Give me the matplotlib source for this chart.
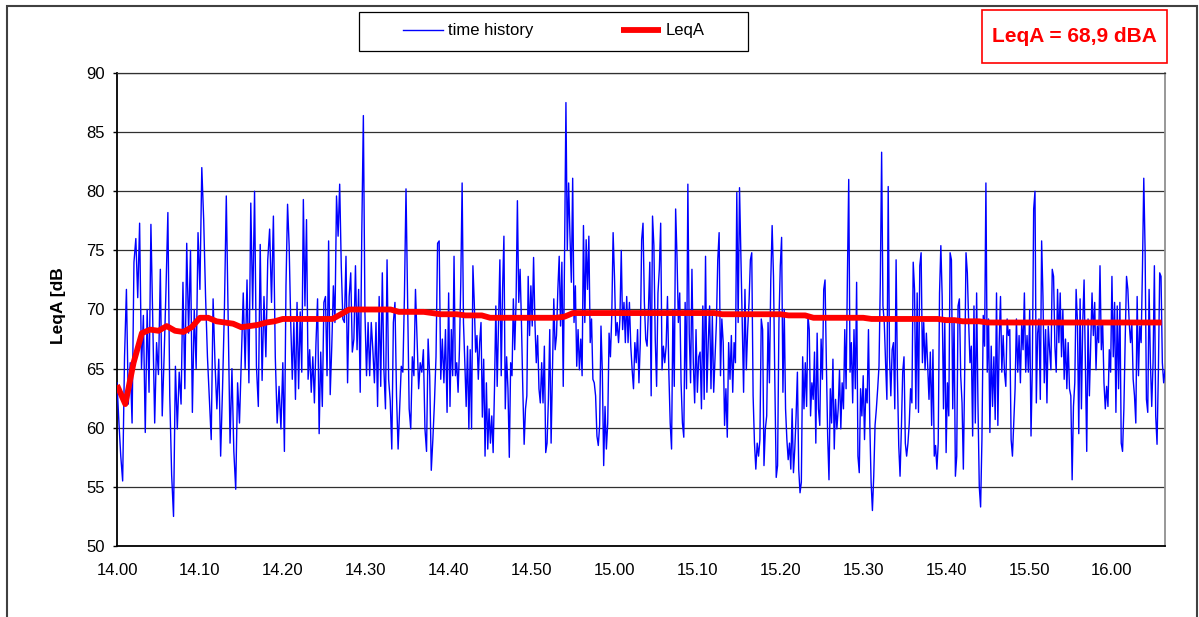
import numpy as np
import matplotlib
matplotlib.use('Agg')
import matplotlib.pyplot as plt
from matplotlib.patches import Rectangle

plt.rcParams['font.family'] = ['Liberation Sans', 'DejaVu Sans']

# time history (dBA), one list per 20 minute block
th_1400 = [63.8, 60.5, 57.6, 55.5, 66.0, 71.7, 62.0, 65.5, 60.4, 74.0, 76.0, 71.0,
           77.3, 65.0, 69.5, 59.6, 70.0, 63.0, 77.2, 68.9, 60.4, 67.2, 64.5, 73.4, 61.0,
           66.0, 71.7, 78.2, 62.7, 56.0, 52.5, 65.2, 59.9, 64.7, 62.0, 72.3, 63.3, 75.6, 68.0,
           75.0, 61.3, 70.0, 65.0, 76.5, 71.7, 82.0, 77.6, 71.1, 66.0, 62.4, 59.0, 70.9, 65.5,
           61.6, 65.8, 57.6, 63.3, 70.0, 79.6, 68.9, 58.7, 65.0, 58.0, 54.8, 63.8, 60.4, 66.0,
           71.4, 65.0, 72.5, 63.8, 79.0, 70.0, 80.0, 65.2, 61.8, 75.5, 64.0, 71.1, 66.0, 74.2,
           76.8, 70.6, 77.9, 66.0, 60.4, 63.5, 59.9]
th_1420 = [65.5, 58.0, 72.0, 78.9, 75.4, 68.9, 64.1, 68.9, 62.4, 70.6, 63.3, 69.8, 64.7, 79.3,
           70.3, 77.6, 64.1, 66.6, 63.0, 66.0, 62.1, 67.2, 70.9, 59.5, 66.4, 61.8, 70.6, 71.1,
           64.4, 75.8, 62.8, 66.9, 72.0, 68.9, 79.6, 76.2, 80.6, 73.7, 69.2, 68.9, 74.5, 63.8,
           71.1, 73.1, 66.4, 67.5, 73.7, 66.6, 71.7, 63.0, 76.5, 86.4, 69.7, 64.4, 68.9, 64.4,
           68.9, 66.6, 63.8, 68.9, 61.8, 71.1, 63.5, 73.1, 64.9, 61.6, 74.2, 64.1, 62.3, 58.2,
           68.9, 70.6, 62.7, 58.2, 61.6, 65.2, 64.7, 71.1, 80.2, 71.1, 61.6, 59.9, 66.0, 64.4,
           71.7, 67.5, 63.3, 65.5, 64.7, 66.6, 59.9, 58.0, 67.5, 64.4, 56.4, 59.0, 62.1, 66.0,
           75.6, 75.8, 64.1, 67.5, 63.8, 68.3, 61.3]
th_1440 = [71.4, 61.8, 68.3, 64.4, 74.5, 64.4, 65.5, 63.0, 66.6, 72.3, 80.7, 68.9, 65.5, 61.8,
           66.9, 59.9, 66.6, 59.9, 73.7, 70.6, 66.4, 67.8, 64.1, 67.2, 68.9, 60.9, 65.8, 57.6,
           63.8, 58.2, 61.6, 58.7, 61.0, 57.9, 63.3, 70.3, 63.5, 68.9, 74.2, 64.4, 71.7, 76.2,
           61.6, 66.0, 63.3, 57.5, 65.5, 64.4, 70.9, 66.6, 70.6, 79.2, 70.6, 73.4, 68.9, 63.3,
           58.6, 61.6, 62.7, 72.8, 67.8, 72.0, 68.6, 74.4, 68.9, 65.5, 67.8, 63.3, 62.1, 65.5,
           62.1, 66.9, 57.9, 58.7, 62.4, 68.3, 58.7, 64.7, 70.9, 66.6, 67.8, 71.7, 74.5, 68.6,
           74.0, 63.5, 74.8, 87.5, 75.0, 80.7, 76.2, 72.3, 81.1, 68.9, 72.0, 65.2, 68.3, 64.9,
           67.5, 64.4, 77.1, 68.9, 75.9, 71.7, 76.2, 67.2, 69.2, 64.1, 63.8, 62.7, 59.3, 58.5,
           60.2, 68.6, 64.7, 56.8, 61.8, 58.2, 60.4, 68.0, 66.0, 69.5, 76.5]
th_1500 = [72.8, 67.8, 68.9, 67.2, 69.2, 75.0, 68.3, 70.6, 67.2, 71.1, 67.2, 70.6, 66.9, 64.9,
           63.3, 67.2, 65.5, 68.3, 63.8, 67.2, 75.9, 77.3, 70.6, 67.5, 66.9, 70.0, 74.0, 62.7,
           77.9, 75.4, 67.5, 63.5, 71.4, 73.4, 77.3, 64.9, 66.9, 65.5, 66.9, 71.1, 64.7, 60.4,
           58.2, 70.0, 63.5, 78.5, 74.5, 68.9, 71.4, 63.8, 60.4, 59.2, 70.6, 63.3, 80.6, 68.0,
           63.8, 73.4, 65.5, 62.1, 68.3, 63.0, 66.0, 66.4, 61.6, 70.3, 62.4, 74.5, 63.0, 67.2,
           70.3, 63.3, 69.5, 63.0, 66.0, 68.9, 74.2, 76.5, 64.4, 69.2, 67.2, 60.2, 63.3, 59.2,
           67.2, 64.1, 67.8, 63.0, 67.2, 65.5, 79.9, 68.9, 80.3, 74.8, 68.9, 63.0, 71.7, 64.9,
           68.3, 70.6, 74.2, 74.8, 62.7, 58.7, 56.5, 58.7, 57.6, 59.0, 69.2, 68.3, 56.8, 59.9,
           61.0, 68.9, 63.8, 72.5, 77.1, 72.8, 63.8, 55.8, 56.8, 68.9]
th_1520 = [73.7, 76.1, 63.0, 70.0, 61.6, 59.0, 57.3, 58.7, 56.5, 61.6, 56.2, 58.2, 61.0, 64.7,
           56.5, 54.5, 55.4, 66.0, 61.6, 65.5, 61.8, 69.5, 68.3, 61.0, 63.8, 62.4, 66.4, 58.7,
           68.0, 61.6, 60.2, 67.5, 64.1, 71.7, 72.5, 65.5, 59.3, 55.6, 63.3, 60.4, 65.8, 58.2,
           62.4, 59.9, 61.6, 64.9, 59.9, 63.8, 61.6, 68.3, 63.3, 72.8, 81.0, 64.7, 67.2, 62.1,
           68.3, 63.3, 72.3, 57.6, 56.2, 63.3, 61.0, 64.4, 59.0, 63.3, 62.1, 68.3, 60.4, 55.4,
           53.0, 55.9, 60.2, 61.6, 63.3, 65.2, 72.3, 83.3, 70.3, 68.9, 65.5, 62.4, 80.4, 66.0,
           62.7, 66.6, 67.2, 61.6, 74.2, 64.4, 58.5, 55.9, 59.9, 64.7, 66.0, 58.7, 57.6, 58.7,
           60.4, 63.3, 62.1, 74.0, 71.7, 61.6, 71.4, 61.3, 73.7, 74.8, 65.5, 68.9, 64.9, 68.0,
           65.2, 62.4, 66.4, 60.2, 66.6, 57.6, 58.5, 56.5, 58.7, 71.4, 75.4, 71.1, 61.6, 68.9]
th_1540 = [57.9, 63.8, 61.0, 74.8, 74.2, 61.6, 69.2, 55.9, 57.6, 70.3, 70.9, 64.4, 62.1, 56.5,
           64.7, 74.8, 73.1, 68.9, 65.5, 66.9, 59.3, 70.3, 60.4, 71.4, 62.1, 55.0, 53.3, 59.0,
           69.5, 66.9, 80.7, 64.7, 69.2, 59.6, 66.9, 61.8, 66.0, 60.7, 71.4, 60.2, 67.2, 71.1,
           64.7, 67.8, 64.7, 63.5, 69.2, 67.8, 68.3, 59.0, 57.6, 60.4, 63.3, 69.2, 64.7, 67.8,
           63.8, 68.9, 66.6, 71.4, 64.7, 67.8, 64.7, 70.0, 59.3, 65.2, 78.5, 80.0, 62.1, 68.0,
           69.2, 62.4, 75.8, 71.1, 63.8, 68.3, 62.1, 68.6, 66.6, 64.9, 73.4, 72.8, 66.9, 64.7,
           71.7, 67.2, 71.4, 66.0, 70.0, 64.1, 67.5, 63.3, 67.2, 63.3, 62.7, 55.6, 61.8, 63.8,
           71.7, 68.9, 59.5, 70.9, 61.6, 68.9, 72.5, 65.2, 58.0, 69.2, 62.7, 67.2, 71.4, 67.8,
           70.6, 64.9, 68.6, 67.2, 73.7, 66.6, 68.9, 63.8, 61.6, 63.5, 61.8, 66.6, 64.7]
th_1600 = [72.8, 66.0, 70.6, 61.3, 70.3, 63.3, 70.6, 58.7, 58.0, 61.6, 67.5, 72.8, 71.7, 68.9,
           67.2, 68.9, 64.1, 62.7, 60.4, 71.1, 64.4, 68.6, 67.2, 73.4, 81.1, 75.0, 62.4, 61.3,
           71.7, 65.5, 61.8, 65.5, 73.7, 61.0, 58.6, 64.7, 73.1, 72.8, 65.5, 63.8, 64.9]

# running LeqA, one value per minute from 14.00
leqa = [63.6, 62.0, 65.5, 68.0, 68.3, 68.2, 68.6, 68.2, 68.1, 68.5,
        69.3, 69.3, 69.0, 68.9, 68.8, 68.5, 68.6, 68.7, 68.9, 69.0,
        69.2, 69.2, 69.2, 69.2, 69.2, 69.2, 69.2, 69.6, 70.0, 70.0,
        70.0, 70.0, 70.0, 70.0, 69.8, 69.8, 69.8, 69.8, 69.7, 69.6,
        69.6, 69.6, 69.5, 69.5, 69.5, 69.3, 69.3, 69.3, 69.3, 69.3,
        69.3, 69.3, 69.3, 69.3, 69.4, 69.7, 69.7, 69.7, 69.7, 69.7,
        69.7, 69.7, 69.7, 69.7, 69.7, 69.7, 69.7, 69.7, 69.7, 69.7,
        69.7, 69.7, 69.7, 69.6, 69.6, 69.6, 69.6, 69.6, 69.6, 69.6,
        69.6, 69.5, 69.5, 69.5, 69.3, 69.3, 69.3, 69.3, 69.3, 69.3,
        69.3, 69.2, 69.2, 69.2, 69.2, 69.2, 69.2, 69.2, 69.2, 69.2,
        69.1, 69.1, 69.0, 69.0, 69.0, 68.9, 68.9, 68.9, 68.9, 68.9,
        68.9, 68.9, 68.9, 68.9, 68.9, 68.9, 68.9, 68.9, 68.9, 68.9,
        68.9, 68.9, 68.9, 68.9, 68.9, 68.9, 68.9]

tick_labels = ['14.00', '14.10', '14.20', '14.30', '14.40', '14.50', '15.00',
               '15.10', '15.20', '15.30', '15.40', '15.50', '16.00']
blocks = [th_1400, th_1420, th_1440, th_1500, th_1520, th_1540, th_1600]
block_start = [0, 20, 40, 60, 80, 100, 120]
end_min = 126.4

t_hist = []
for start, blk in zip(block_start, blocks):
    if start == block_start[-1]:
        t_hist.append(np.linspace(start, end_min, len(blk)))
    else:
        t_hist.append(np.linspace(start, start + 20, len(blk), endpoint=False))
t_hist = np.concatenate(t_hist)
v_hist = np.concatenate(blocks)
t_leq = np.arange(len(leqa))

W, H = 1199, 617
fig = plt.figure(figsize=(W / 100, H / 100), dpi=100)
ax = fig.add_axes([117 / W, 1 - 546 / H, (1165 - 117) / W, (546 - 73) / H])

ax.plot(t_hist, v_hist, color='#0000ff', lw=1.0, label='time history', zorder=3)
ax.plot(t_leq, leqa, color='#ff0000', lw=4.2, label='LeqA', zorder=4,
        solid_capstyle='butt')

ax.set_xlim(0, end_min)
ax.set_ylim(50, 90)
ax.set_yticks(range(50, 91, 5))
ax.set_xticks(range(0, 121, 10))
ax.set_xticklabels(tick_labels)
ax.tick_params(axis='y', length=3, width=1, pad=6, labelsize=12, direction='out')
ax.tick_params(axis='x', length=0, pad=12, labelsize=12)
ax.yaxis.grid(True, color='#303030', lw=0.9)
ax.set_axisbelow(True)
for s in ['left', 'bottom']:
    ax.spines[s].set_color('#000000')
    ax.spines[s].set_linewidth(1.3)
ax.spines['top'].set_color('#303030')
ax.spines['top'].set_linewidth(0.9)
ax.spines['right'].set_color('#909090')
ax.spines['right'].set_linewidth(1.3)

fig.text(58 / W, 1 - 306 / H, 'LeqA [dB', rotation=90, ha='center', va='center',
         fontsize=12.5, fontweight='bold')

# legend box at the top
fig.patches.append(Rectangle((359 / W, 1 - 51 / H), (748 - 359) / W, 39 / H,
                             transform=fig.transFigure, fill=False,
                             edgecolor='black', lw=0.9))
fig.legend(loc='center', bbox_to_anchor=(554 / W, 1 - 31 / H), ncol=2,
           frameon=False, fontsize=12, handlelength=2.4, handletextpad=0.3,
           columnspacing=5.2)

# result box
fig.patches.append(Rectangle((982 / W, 1 - 63 / H), (1167 - 982) / W, 53 / H,
                             transform=fig.transFigure, fill=False,
                             edgecolor='#ff0000', lw=1.2))
fig.text(1074 / W, 1 - 36 / H, 'LeqA = 68,9 dBA', color='#ff0000', fontsize=15,
         fontweight='bold', ha='center', va='center')

# outer chart frame
fig.patches.append(Rectangle((7 / W, -0.1), (1197 - 7) / W, 1 - 6 / H + 0.1,
                             transform=fig.transFigure, fill=False,
                             edgecolor='#404040', lw=1.5))

fig.savefig('out.png', dpi=100)
